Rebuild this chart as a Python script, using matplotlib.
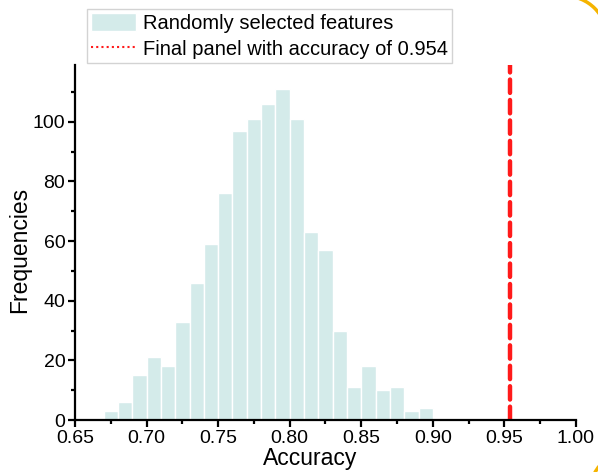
import matplotlib
matplotlib.use('Agg')
import matplotlib.pyplot as plt
from matplotlib.patches import Arc
from matplotlib.ticker import MultipleLocator

plt.rcParams['font.family'] = ['Liberation Sans', 'DejaVu Sans']

# Histogram bins (left edges, width 0.01) and counts
bin_left = [0.67, 0.68, 0.69, 0.70, 0.71, 0.72, 0.73, 0.74, 0.75, 0.76, 0.77, 0.78,
            0.79, 0.80, 0.81, 0.82, 0.83, 0.84, 0.85, 0.86, 0.87, 0.88, 0.89]
counts = [3, 6, 15, 21, 18, 33, 46, 59, 76, 97, 101, 106,
          111, 101, 63, 57, 30, 11, 18, 10, 11, 3, 4]
bin_width = 0.01
final_acc = 0.954


def main():
    fig = plt.figure(figsize=(5.98, 4.72), dpi=100)
    ax = fig.add_axes([0.1254, 0.110, 0.8378, 0.752])

    bars = ax.bar(bin_left, counts, width=bin_width, align='edge', color='#d4ebea',
                  edgecolor='white', linewidth=1.0, label='Randomly selected features')
    ax.plot([final_acc, final_acc], [0, 119], color='#ff1a1a', linewidth=3.2,
            linestyle=(0, (3, 1.6)), solid_capstyle='round', dash_capstyle='round')
    # legend entry drawn as a thin dotted line like in the original
    dot, = ax.plot([], [], color='#ff1a1a', linewidth=1.5, linestyle=(0, (1, 1.5)),
                   label='Final panel with accuracy of 0.954')

    ax.set_xlim(0.65, 1.00)
    ax.set_ylim(0, 119)
    ax.xaxis.set_major_locator(MultipleLocator(0.05))
    ax.xaxis.set_minor_locator(MultipleLocator(0.025))
    ax.yaxis.set_major_locator(MultipleLocator(20))
    ax.yaxis.set_minor_locator(MultipleLocator(10))
    ax.xaxis.set_major_formatter(plt.FormatStrFormatter('%.2f'))

    for side in ['top', 'right']:
        ax.spines[side].set_visible(False)
    for side in ['left', 'bottom']:
        ax.spines[side].set_linewidth(1.6)
    ax.tick_params(which='major', direction='out', length=5, width=1.6,
                   labelsize=14, colors='black', pad=2)
    ax.tick_params(which='minor', direction='out', length=3, width=1.6)

    ax.set_xlabel('Accuracy', fontsize=16.5, labelpad=0, x=0.47)
    ax.set_ylabel('Frequencies', fontsize=16.5, labelpad=1, y=0.48)

    leg = fig.legend(handles=[bars, dot], loc='upper left', bbox_to_anchor=(0.146, 0.981),
                     fontsize=14.5, frameon=True, fancybox=False, edgecolor='#c8c8c8',
                     handlelength=2.2, handleheight=1.0, borderpad=0.2,
                     labelspacing=0.3, handletextpad=0.35, borderaxespad=0)
    leg.get_frame().set_linewidth(1.0)

    # orange corner marks from the source screenshot
    fig.patches.append(Arc((565 / 598, 1 - 38 / 472), 84 / 598, 84 / 472, theta1=0, theta2=90,
                           transform=fig.transFigure, color='#f5b400', linewidth=2.5))
    fig.patches.append(Arc((620 / 598, -13 / 472), 56 / 598, 56 / 472, theta1=90, theta2=180,
                           transform=fig.transFigure, color='#f5b400', linewidth=2.5))

    fig.savefig('out.png', dpi=100)


if __name__ == '__main__':
    main()
